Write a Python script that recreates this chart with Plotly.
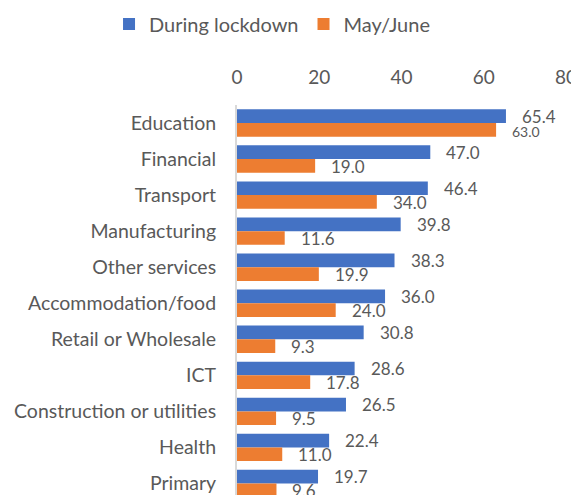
import plotly.graph_objects as go

categories = ["Education", "Financial", "Transport", "Manufacturing", "Other services",
              "Accommodation/food", "Retail or Wholesale", "ICT",
              "Construction or utilities", "Health", "Primary"]
during_lockdown = [65.4, 47.0, 46.4, 39.8, 38.3, 36.0, 30.8, 28.6, 26.5, 22.4, 19.7]
may_june = [63.0, 19.0, 34.0, 11.6, 19.9, 24.0, 9.3, 17.8, 9.5, 11.0, 9.6]
x_ticks = [0, 20, 40, 60, 80]

BLUE = "#4472C4"
ORANGE = "#ED7D31"
TEXT = "#595959"
FONT = "Lato"

fig = go.Figure()
fig.add_trace(go.Bar(y=categories, x=during_lockdown, name="During lockdown",
                     orientation="h", marker=dict(color=BLUE, line=dict(width=0))))
fig.add_trace(go.Bar(y=categories, x=may_june, name="May/June",
                     orientation="h", marker=dict(color=ORANGE, line=dict(width=0))))

annotations = []
for cat, v1, v2 in zip(categories, during_lockdown, may_june):
    annotations.append(dict(x=v1, y=cat, xref="x", yref="y", text=f"{v1:.1f}",
                            showarrow=False, xanchor="left", yanchor="middle",
                            xshift=14, yshift=7,
                            font=dict(family=FONT, size=17, color=TEXT)))
    small = v2 > 60
    annotations.append(dict(x=v2, y=cat, xref="x", yref="y", text=f"{v2:.1f}",
                            showarrow=False, xanchor="left", yanchor="middle",
                            xshift=14, yshift=-7 if not small else -8,
                            font=dict(family=FONT, size=14 if small else 17, color=TEXT)))

# the page body adds an 8px offset; margins compensate for it
fig.update_layout(
    width=579, height=495,
    margin=dict(l=229, r=21, t=97, b=8, autoexpand=False),
    paper_bgcolor="white", plot_bgcolor="white",
    barmode="group", bargap=0.24, bargroupgap=0,
    font=dict(family=FONT, color=TEXT),
    legend=dict(orientation="h", x=0.456, xanchor="center", xref="container",
                y=1.258, yref="paper", yanchor="top",
                font=dict(family=FONT, size=20, color=TEXT),
                traceorder="normal"),
    annotations=annotations,
    showlegend=True,
)
fig.update_xaxes(side="top", range=[0, 80], tickvals=x_ticks, automargin=False,
                 showgrid=False, zeroline=False, showline=False,
                 ticks="outside", ticklen=12, tickcolor="rgba(0,0,0,0)",
                 tickfont=dict(family=FONT, size=19, color=TEXT))
fig.update_yaxes(categoryorder="array", categoryarray=categories,
                 range=[10.32, -0.5], autorange=False, automargin=False,
                 showgrid=False, zeroline=False,
                 showline=True, linecolor="#D9D9D9", linewidth=2,
                 ticks="", ticklabelstandoff=15,
                 tickfont=dict(family=FONT, size=19.5, color=TEXT))

fig.write_html("out.html")
